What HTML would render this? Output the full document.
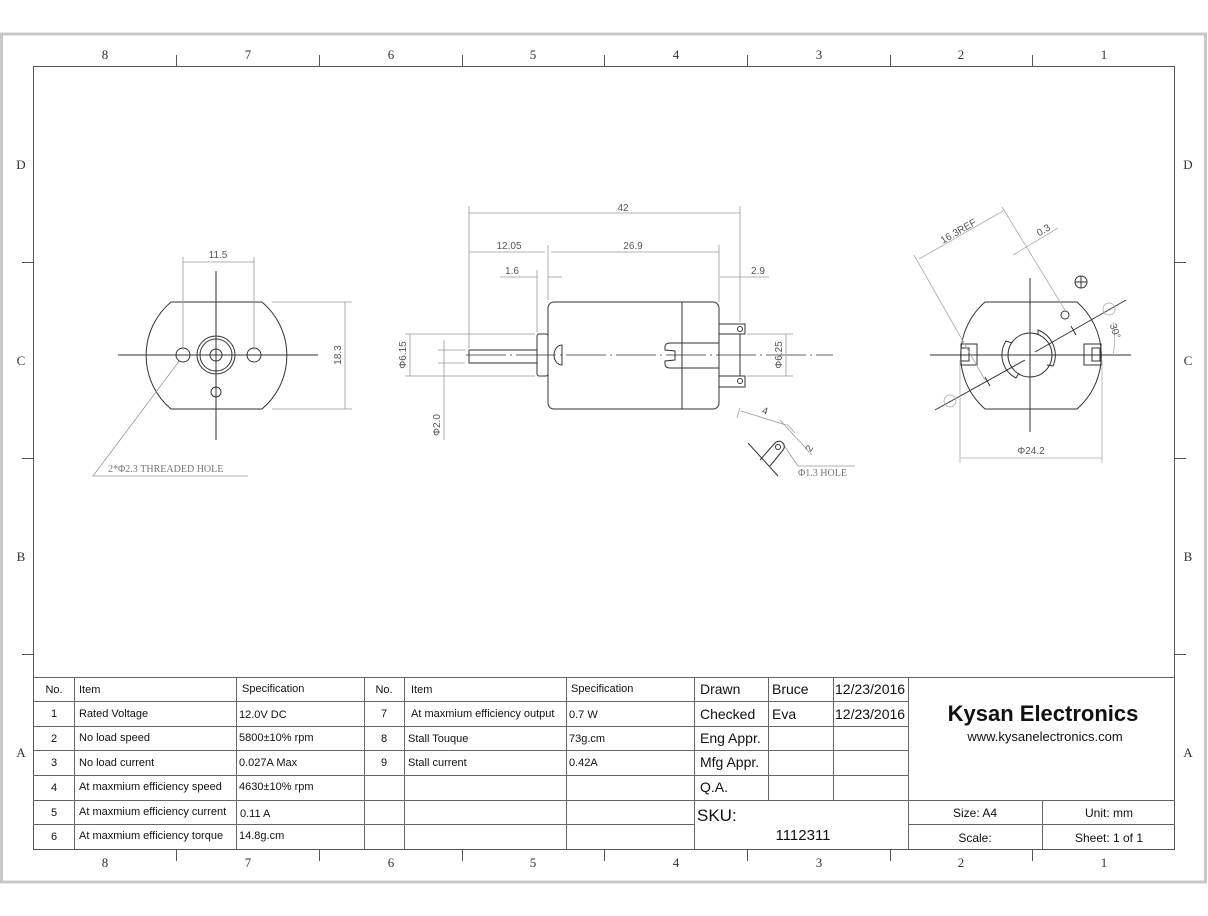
<!DOCTYPE html>
<html><head><meta charset="utf-8"><style>
html,body{margin:0;padding:0;background:#fff;}
svg{display:block;}
.s{font-family:"Liberation Sans",sans-serif;}
.r{font-family:"Liberation Serif",serif;}
</style></head><body>
<svg width="1208" height="916" viewBox="0 0 1208 916" xmlns="http://www.w3.org/2000/svg">
<rect x="0" y="0" width="1208" height="916" fill="#fff"/>
<rect x="1.5" y="34" width="1204" height="848" fill="none" stroke="#c8c8c8" stroke-width="3"/>
<rect x="33.5" y="66.5" width="1141" height="783" fill="none" stroke="#555" stroke-width="1"/>
<g stroke="#555" stroke-width="1">
<line x1="176.5" y1="55" x2="176.5" y2="66"/><line x1="319.5" y1="55" x2="319.5" y2="66"/><line x1="462.5" y1="55" x2="462.5" y2="66"/><line x1="604.5" y1="55" x2="604.5" y2="66"/><line x1="747.5" y1="55" x2="747.5" y2="66"/><line x1="890.5" y1="55" x2="890.5" y2="66"/><line x1="1032.5" y1="55" x2="1032.5" y2="66"/>
<line x1="176.5" y1="850" x2="176.5" y2="861"/><line x1="319.5" y1="850" x2="319.5" y2="861"/><line x1="462.5" y1="850" x2="462.5" y2="861"/><line x1="604.5" y1="850" x2="604.5" y2="861"/><line x1="747.5" y1="850" x2="747.5" y2="861"/><line x1="890.5" y1="850" x2="890.5" y2="861"/><line x1="1032.5" y1="850" x2="1032.5" y2="861"/>
<line x1="22" y1="262.5" x2="33" y2="262.5"/><line x1="22" y1="458.5" x2="33" y2="458.5"/><line x1="22" y1="654.5" x2="33" y2="654.5"/>
<line x1="1175" y1="262.5" x2="1186" y2="262.5"/><line x1="1175" y1="458.5" x2="1186" y2="458.5"/><line x1="1175" y1="654.5" x2="1186" y2="654.5"/>
</g>
<g class="r" font-size="13" fill="#333" text-anchor="middle">
<text x="105" y="59">8</text><text x="248" y="59">7</text><text x="391" y="59">6</text><text x="533" y="59">5</text><text x="676" y="59">4</text><text x="819" y="59">3</text><text x="961" y="59">2</text><text x="1104" y="59">1</text>
<text x="105" y="867">8</text><text x="248" y="867">7</text><text x="391" y="867">6</text><text x="533" y="867">5</text><text x="676" y="867">4</text><text x="819" y="867">3</text><text x="961" y="867">2</text><text x="1104" y="867">1</text>
<text x="21" y="169">D</text><text x="21" y="365">C</text><text x="21" y="561">B</text><text x="21" y="757">A</text>
<text x="1188" y="169">D</text><text x="1188" y="365">C</text><text x="1188" y="561">B</text><text x="1188" y="757">A</text>
</g>

<g fill="none" stroke="#333" stroke-width="1">
<path d="M171,302 L262,302 A70,70 0 0 1 262,409 L171,409 A70,70 0 0 1 171,302 Z"/>
<circle cx="183" cy="355" r="7"/><circle cx="254" cy="355" r="7"/>
<circle cx="216" cy="355" r="19"/><circle cx="216" cy="355" r="16"/><circle cx="216" cy="355" r="6"/>
<circle cx="216" cy="392" r="5"/>
<line x1="118" y1="355" x2="318" y2="355"/><line x1="216" y1="271" x2="216" y2="440"/>
</g>
<g fill="none" stroke="#999" stroke-width="0.8">
<line x1="183" y1="257" x2="183" y2="350"/><line x1="254" y1="257" x2="254" y2="350"/>
<line x1="183" y1="262" x2="254" y2="262"/>
<line x1="272" y1="302" x2="352" y2="302"/><line x1="272" y1="409" x2="352" y2="409"/>
<line x1="345" y1="302" x2="345" y2="409"/>
<polyline points="180,360 93,476 248,476"/>
</g>
<g class="s" font-size="10" fill="#555">
<text x="218" y="258" text-anchor="middle">11.5</text>
<text transform="translate(341,355) rotate(-90)" text-anchor="middle">18.3</text>
</g>
<text x="108" y="472" class="r" font-size="10" fill="#777">2*Φ2.3 THREADED HOLE</text>

<g fill="none" stroke="#333" stroke-width="1">
<rect x="548" y="302" width="171" height="107" rx="6"/>
<line x1="682" y1="302" x2="682" y2="409"/>
<rect x="537" y="334" width="11" height="42" rx="2"/>
<rect x="469" y="350" width="68" height="13"/>
<path d="M562,345 A8,10 0 0 0 562,365 Z"/>
<path d="M719,343 L670,343 Q665,343 665,347 L665,350 L675,351 L675,360 L665,361 L665,364 Q665,368 670,368 L719,368"/>
<rect x="719" y="324" width="26" height="10"/><rect x="719" y="376" width="26" height="11"/>
<circle cx="740" cy="329" r="2.5"/><circle cx="740" cy="381" r="2.5"/>
<line x1="740" y1="334" x2="740" y2="376"/>
</g>
<line x1="466" y1="355" x2="833" y2="355" stroke="#333" stroke-width="0.8" stroke-dasharray="40,4,2,4"/>
<g fill="none" stroke="#999" stroke-width="0.8">
<line x1="469" y1="206" x2="469" y2="348"/><line x1="740" y1="206" x2="740" y2="322"/>
<line x1="469" y1="213" x2="740" y2="213"/>
<line x1="548" y1="245" x2="548" y2="300"/><line x1="719" y1="245" x2="719" y2="302"/>
<line x1="469" y1="252" x2="545" y2="252"/><line x1="551" y1="252" x2="719" y2="252"/>
<line x1="537" y1="270" x2="537" y2="332"/>
<line x1="500" y1="277" x2="537" y2="277"/><line x1="548" y1="277" x2="562" y2="277"/>
<line x1="720" y1="277" x2="769" y2="277"/>
<line x1="405" y1="334" x2="535" y2="334"/><line x1="405" y1="376" x2="535" y2="376"/>
<line x1="410" y1="334" x2="410" y2="376"/>
<line x1="438" y1="350" x2="465" y2="350"/><line x1="438" y1="363" x2="465" y2="363"/>
<line x1="444" y1="340" x2="444" y2="440"/>
<line x1="747" y1="334" x2="793" y2="334"/><line x1="747" y1="376" x2="793" y2="376"/>
<line x1="786" y1="334" x2="786" y2="376"/>
<line x1="741" y1="411" x2="786" y2="425"/><line x1="740" y1="408" x2="737" y2="418"/>
<line x1="780" y1="420" x2="812" y2="455"/><line x1="787" y1="424" x2="795" y2="433"/>
<line x1="783" y1="444" x2="798" y2="466"/><polyline points="798,466 855,466"/>
</g>
<g fill="none" stroke="#333" stroke-width="1">
<line x1="748" y1="443" x2="778" y2="476"/>
<path d="M760,460 L775,443 A5,5 0 0 1 783,450 L770,466"/>
<circle cx="778" cy="447" r="2.5"/>
</g>
<g class="s" font-size="10" fill="#555">
<text x="623" y="211" text-anchor="middle">42</text>
<text x="509" y="249" text-anchor="middle">12.05</text>
<text x="633" y="249" text-anchor="middle">26.9</text>
<text x="512" y="274" text-anchor="middle">1.6</text>
<text x="758" y="274" text-anchor="middle">2.9</text>
<text transform="translate(406,355) rotate(-90)" text-anchor="middle">Φ6.15</text>
<text transform="translate(440,425) rotate(-90)" text-anchor="middle">Φ2.0</text>
<text transform="translate(782,355) rotate(-90)" text-anchor="middle">Φ6.25</text>
<text transform="translate(764,414) rotate(18)" text-anchor="middle">4</text>
<text transform="translate(812,450) rotate(-60)" text-anchor="middle">2</text>
</g>
<text x="798" y="476" class="r" font-size="10" fill="#777">Φ1.3 HOLE</text>

<g fill="none" stroke="#333" stroke-width="1">
<path d="M985,302 L1077,302 A71,71 0 0 1 1077,409 L985,409 A71,71 0 0 1 985,302 Z"/>
<circle cx="1030" cy="355" r="22"/>
<path d="M1012,343 L1006,341 A26,26 0 0 0 1016,378 L1019,373"/>
<path d="M1038,335 L1038,330 A27,27 0 0 1 1053,366 L1047,365"/>
<rect x="961" y="344" width="16" height="21"/><rect x="961" y="348" width="8" height="13"/>
<rect x="1084" y="344" width="17" height="21"/><rect x="1092" y="348" width="8" height="13"/>
<line x1="930" y1="355" x2="1131" y2="355"/><line x1="1030" y1="278" x2="1030" y2="432"/>
<line x1="935" y1="410" x2="1025" y2="360"/><line x1="1035" y1="352" x2="1126" y2="300"/>
<circle cx="1065" cy="315" r="4"/>
<circle cx="1081" cy="282" r="6"/><line x1="1075" y1="282" x2="1087" y2="282"/><line x1="1081" y1="276" x2="1081" y2="288"/>
<line x1="985" y1="377" x2="990" y2="386"/><line x1="1071" y1="326" x2="1076" y2="335"/>
</g>
<g fill="none" stroke="#aaa" stroke-width="0.8">
<circle cx="950" cy="401" r="6"/><circle cx="1109" cy="309" r="6"/>
<line x1="960" y1="360" x2="960" y2="463"/><line x1="1102" y1="360" x2="1102" y2="463"/>
<line x1="960" y1="458" x2="1102" y2="458"/>
<line x1="914" y1="255" x2="985" y2="380"/><line x1="1002" y1="207" x2="1065" y2="310"/>
<line x1="919" y1="259" x2="1003" y2="211"/>
<line x1="1013" y1="255" x2="1058" y2="228"/>
<path d="M1113,322 A80,80 0 0 1 1113,355"/>
</g>
<g class="s" font-size="10" fill="#555">
<text x="1031" y="454" text-anchor="middle">Φ24.2</text>
<text transform="translate(960,234) rotate(-30)" text-anchor="middle">16.3REF</text>
<text transform="translate(1045,233) rotate(-30)" text-anchor="middle">0.3</text>
<text transform="translate(1112,332) rotate(72)" text-anchor="middle">30°</text>
</g>

<g stroke="#666" stroke-width="1" fill="none">
<line x1="33" y1="677.5" x2="1175" y2="677.5"/>
<line x1="33" y1="701.5" x2="908" y2="701.5"/>
<line x1="33" y1="726.5" x2="908" y2="726.5"/>
<line x1="33" y1="750.5" x2="908" y2="750.5"/>
<line x1="33" y1="775.5" x2="908" y2="775.5"/>
<line x1="33" y1="800.5" x2="1175" y2="800.5"/>
<line x1="33" y1="824.5" x2="694" y2="824.5"/>
<line x1="908" y1="824.5" x2="1175" y2="824.5"/>
<line x1="74.5" y1="677" x2="74.5" y2="850"/>
<line x1="236.5" y1="677" x2="236.5" y2="850"/>
<line x1="364.5" y1="677" x2="364.5" y2="850"/>
<line x1="404.5" y1="677" x2="404.5" y2="850"/>
<line x1="566.5" y1="677" x2="566.5" y2="850"/>
<line x1="694.5" y1="677" x2="694.5" y2="850"/>
<line x1="768.5" y1="677" x2="768.5" y2="800"/>
<line x1="833.5" y1="677" x2="833.5" y2="800"/>
<line x1="908.5" y1="677" x2="908.5" y2="850"/>
<line x1="1042.5" y1="800" x2="1042.5" y2="850"/>
</g>
<g class="s" font-size="11" fill="#111">
<text x="54" y="693" text-anchor="middle">No.</text><text x="79" y="693">Item</text><text x="242" y="692">Specification</text>
<text x="384" y="693" text-anchor="middle">No.</text><text x="411" y="693">Item</text><text x="571" y="692">Specification</text>
<text x="54" y="717" text-anchor="middle">1</text><text x="79" y="717">Rated Voltage</text><text x="239" y="718">12.0V DC</text>
<text x="384" y="717" text-anchor="middle">7</text><text x="411" y="717">At maxmium efficiency output</text><text x="569" y="718">0.7 W</text>
<text x="54" y="742" text-anchor="middle">2</text><text x="79" y="741">No load speed</text><text x="239" y="741">5800±10% rpm</text>
<text x="384" y="742" text-anchor="middle">8</text><text x="408" y="742">Stall Touque</text><text x="569" y="742">73g.cm</text>
<text x="54" y="766" text-anchor="middle">3</text><text x="79" y="766">No load current</text><text x="239" y="766">0.027A Max</text>
<text x="384" y="766" text-anchor="middle">9</text><text x="408" y="766">Stall current</text><text x="569" y="766">0.42A</text>
<text x="54" y="791" text-anchor="middle">4</text><text x="79" y="790">At maxmium efficiency  speed</text><text x="239" y="790">4630±10% rpm</text>
<text x="54" y="816" text-anchor="middle">5</text><text x="79" y="815">At maxmium efficiency  current</text><text x="240" y="817">0.11 A</text>
<text x="54" y="840" text-anchor="middle">6</text><text x="79" y="839">At maxmium efficiency torque</text><text x="239" y="839">14.8g.cm</text>
</g>
<g class="s" font-size="14" fill="#111">
<text x="700" y="694">Drawn</text><text x="772" y="694">Bruce</text><text x="835" y="694">12/23/2016</text>
<text x="700" y="719">Checked</text><text x="772" y="719">Eva</text><text x="835" y="719">12/23/2016</text>
<text x="700" y="743">Eng Appr.</text>
<text x="700" y="767">Mfg Appr.</text>
<text x="700" y="792">Q.A.</text>
<text x="697" y="821" font-size="17">SKU:</text>
<text x="803" y="840" font-size="15" text-anchor="middle">1112311</text>
</g>
<text x="1043" y="721" class="s" font-size="22" font-weight="bold" fill="#111" text-anchor="middle">Kysan Electronics</text>
<text x="1045" y="741" class="s" font-size="13" fill="#111" text-anchor="middle">www.kysanelectronics.com</text>
<g class="s" font-size="12" fill="#111" text-anchor="middle">
<text x="975" y="817">Size: A4</text><text x="1109" y="817">Unit: mm</text>
<text x="975" y="842">Scale:</text><text x="1109" y="842">Sheet: 1 of 1</text>
</g>
</svg>
</body></html>
